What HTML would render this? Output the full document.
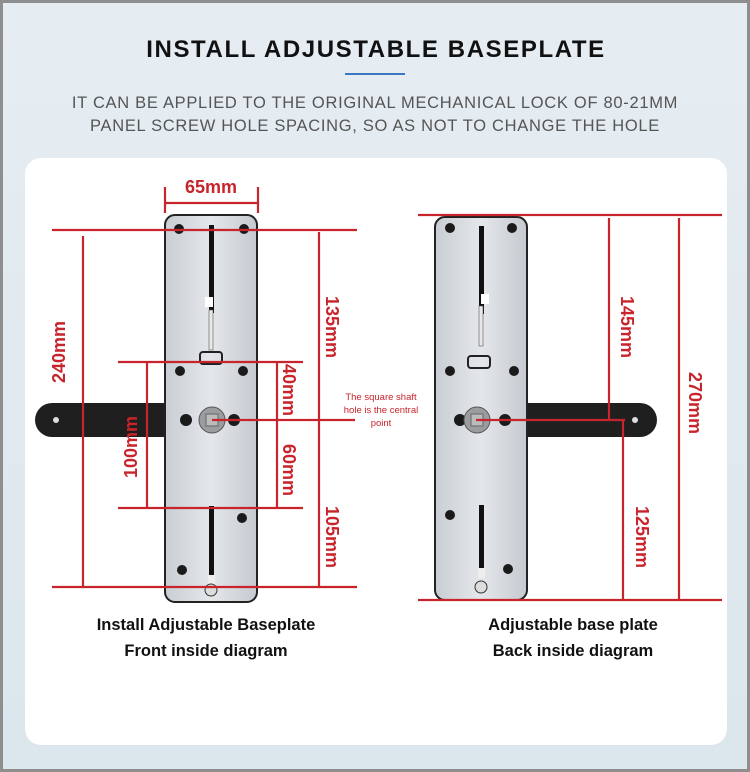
<!DOCTYPE html>
<html><head><meta charset="utf-8"><style>
html,body{margin:0;padding:0;}
body{width:750px;height:772px;overflow:hidden;background:#fff;}
svg{display:block;}
text{font-family:"Liberation Sans",Arial,sans-serif;}
</style></head><body>
<svg width="750" height="772" viewBox="0 0 750 772" xmlns="http://www.w3.org/2000/svg">
<defs>
<linearGradient id="bg" x1="0" y1="0" x2="0" y2="1">
<stop offset="0" stop-color="#e6edf2"/><stop offset="1" stop-color="#dbe6ed"/></linearGradient>
<linearGradient id="plate" x1="0" y1="0" x2="1" y2="0">
<stop offset="0" stop-color="#c9ced4"/><stop offset="0.5" stop-color="#e4e7ea"/><stop offset="1" stop-color="#c5cad0"/></linearGradient>
</defs>
<rect x="0" y="0" width="750" height="772" fill="#8e8e8e"/>
<rect x="3" y="3" width="744" height="766" fill="url(#bg)"/>
<rect x="25" y="158" width="702" height="587" rx="16" fill="#ffffff"/>

<text x="376" y="57" text-anchor="middle" font-size="24" font-weight="bold" letter-spacing="1.6" fill="#111">INSTALL  ADJUSTABLE BASEPLATE</text>
<rect x="345" y="73" width="60" height="2" fill="#3a78c0"/>
<text x="375" y="108" text-anchor="middle" font-size="16.5" letter-spacing="0.7" fill="#555">IT CAN BE APPLIED TO THE ORIGINAL MECHANICAL LOCK OF 80-21MM</text>
<text x="375" y="131" text-anchor="middle" font-size="16.5" letter-spacing="0.7" fill="#555">PANEL SCREW HOLE SPACING, SO AS NOT TO CHANGE THE HOLE</text>

<!-- LEFT handle -->
<path d="M165 403 H52 a17 17 0 0 0 0 34 H165 Z" fill="#1f1f1f"/>
<circle cx="56" cy="420" r="3" fill="#ddd"/>
<!-- LEFT plate -->
<rect x="165" y="215" width="92" height="387" rx="10" fill="url(#plate)" stroke="#222" stroke-width="2"/>
<rect x="209" y="225" width="5" height="88" fill="#111"/>
<rect x="205" y="297" width="8" height="10" fill="#fff"/>
<rect x="209" y="310" width="4" height="40" fill="#e8e8e8" stroke="#555" stroke-width="0.6"/>
<rect x="200" y="352" width="22" height="12" rx="3" fill="none" stroke="#222" stroke-width="2"/>
<rect x="209" y="506" width="5" height="70" fill="#111"/>
<rect x="208" y="575" width="7" height="10" fill="#eee"/>
<circle cx="211" cy="590" r="6" fill="#ddd" stroke="#333"/>
<g fill="#1a1a1a">
<circle cx="179" cy="229" r="5"/><circle cx="244" cy="229" r="5"/>
<circle cx="180" cy="371" r="5"/><circle cx="243" cy="371" r="5"/>
<circle cx="186" cy="420" r="6"/><circle cx="234" cy="420" r="6"/>
<circle cx="242" cy="518" r="5"/><circle cx="182" cy="570" r="5"/>
</g>
<circle cx="212" cy="420" r="13" fill="#9a9da0" stroke="#555"/>
<rect x="206" y="414" width="12" height="12" fill="#bbb" stroke="#666"/>

<!-- RIGHT handle -->
<path d="M527 403 H640 a17 17 0 0 1 0 34 H527 Z" fill="#1f1f1f"/>
<circle cx="635" cy="420" r="3" fill="#ddd"/>
<!-- RIGHT plate -->
<rect x="435" y="217" width="92" height="383" rx="10" fill="url(#plate)" stroke="#222" stroke-width="2"/>
<rect x="479" y="226" width="5" height="88" fill="#111"/>
<rect x="481" y="294" width="8" height="10" fill="#fff"/>
<rect x="479" y="306" width="4" height="40" fill="#e8e8e8" stroke="#555" stroke-width="0.6"/>
<rect x="468" y="356" width="22" height="12" rx="3" fill="none" stroke="#222" stroke-width="2"/>
<rect x="479" y="505" width="5" height="65" fill="#111"/>
<rect x="478" y="568" width="7" height="10" fill="#eee"/>
<circle cx="481" cy="587" r="6" fill="#ddd" stroke="#333"/>
<g fill="#1a1a1a">
<circle cx="450" cy="228" r="5"/><circle cx="512" cy="228" r="5"/>
<circle cx="450" cy="371" r="5"/><circle cx="514" cy="371" r="5"/>
<circle cx="460" cy="420" r="6"/><circle cx="505" cy="420" r="6"/>
<circle cx="450" cy="515" r="5"/><circle cx="508" cy="569" r="5"/>
</g>
<circle cx="477" cy="420" r="13" fill="#9a9da0" stroke="#555"/>
<rect x="471" y="414" width="12" height="12" fill="#bbb" stroke="#666"/>

<!-- red dimension lines -->
<g stroke="#c8242c" stroke-width="2.2" fill="none">
<line x1="165" y1="187" x2="165" y2="213"/><line x1="258" y1="187" x2="258" y2="213"/>
<line x1="165" y1="203" x2="258" y2="203"/>
<line x1="52" y1="230" x2="357" y2="230"/>
<line x1="52" y1="587" x2="357" y2="587"/>
<line x1="83" y1="236" x2="83" y2="587"/>
<line x1="118" y1="362" x2="303" y2="362"/>
<line x1="118" y1="508" x2="303" y2="508"/>
<line x1="147" y1="362" x2="147" y2="508"/>
<line x1="277" y1="362" x2="277" y2="508"/>
<line x1="319" y1="232" x2="319" y2="587"/>
<line x1="212" y1="420" x2="355" y2="420"/>

<line x1="418" y1="215" x2="722" y2="215"/>
<line x1="418" y1="600" x2="722" y2="600"/>
<line x1="609" y1="218" x2="609" y2="420"/>
<line x1="476" y1="420" x2="625" y2="420"/>
<line x1="623" y1="420" x2="623" y2="600"/>
<line x1="679" y1="218" x2="679" y2="600"/>
</g>

<g fill="#c8242c" font-weight="bold" font-size="18">
<text x="211" y="193" text-anchor="middle">65mm</text>
<text transform="translate(65,352) rotate(-90)" text-anchor="middle">240mm</text>
<text transform="translate(137,447) rotate(-90)" text-anchor="middle">100mm</text>
<text transform="translate(283,390) rotate(90)" text-anchor="middle">40mm</text>
<text transform="translate(283,470) rotate(90)" text-anchor="middle">60mm</text>
<text transform="translate(326,327) rotate(90)" text-anchor="middle">135mm</text>
<text transform="translate(326,537) rotate(90)" text-anchor="middle">105mm</text>
<text transform="translate(621,327) rotate(90)" text-anchor="middle">145mm</text>
<text transform="translate(636,537) rotate(90)" text-anchor="middle">125mm</text>
<text transform="translate(689,403) rotate(90)" text-anchor="middle">270mm</text>
</g>
<g fill="#c8242c" font-size="9.5" text-anchor="middle">
<text x="381" y="400">The square shaft</text>
<text x="381" y="413">hole is the central</text>
<text x="381" y="426">point</text>
</g>

<g fill="#111" font-weight="bold" font-size="16.5" text-anchor="middle">
<text x="206" y="630">Install  Adjustable Baseplate</text>
<text x="206" y="656">Front inside diagram</text>
<text x="573" y="630">Adjustable base plate</text>
<text x="573" y="656">Back inside diagram</text>
</g>
</svg>
</body></html>
